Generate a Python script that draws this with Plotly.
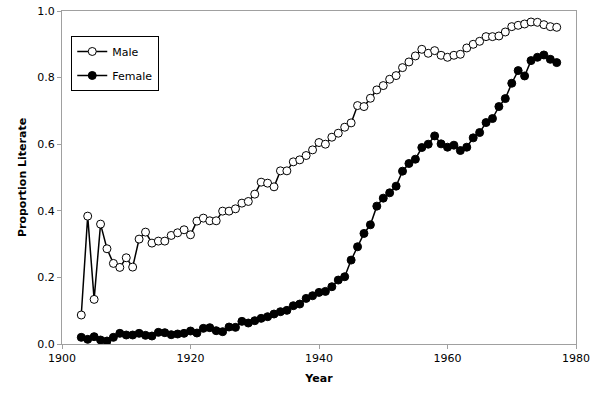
import plotly.graph_objects as go

years = list(range(1903, 1978))

male = [0.087, 0.384, 0.134, 0.360, 0.286, 0.242, 0.230, 0.259, 0.231, 0.315,
        0.336, 0.303, 0.309, 0.309, 0.326, 0.334, 0.343, 0.328, 0.369, 0.378,
        0.370, 0.370, 0.399, 0.399, 0.406, 0.423, 0.428, 0.450, 0.486, 0.483,
        0.472, 0.520, 0.520, 0.547, 0.553, 0.566, 0.583, 0.605, 0.600, 0.621,
        0.633, 0.651, 0.664, 0.716, 0.713, 0.738, 0.763, 0.776, 0.795, 0.806,
        0.830, 0.847, 0.865, 0.885, 0.873, 0.881, 0.867, 0.861, 0.867, 0.870,
        0.889, 0.900, 0.909, 0.923, 0.923, 0.925, 0.937, 0.953, 0.957, 0.961,
        0.967, 0.966, 0.959, 0.953, 0.951]

female = [0.020, 0.014, 0.022, 0.012, 0.009, 0.020, 0.032, 0.027, 0.027, 0.032,
          0.026, 0.024, 0.035, 0.034, 0.028, 0.030, 0.032, 0.039, 0.033, 0.047,
          0.049, 0.040, 0.037, 0.051, 0.050, 0.068, 0.063, 0.070, 0.077, 0.082,
          0.090, 0.097, 0.101, 0.115, 0.120, 0.137, 0.145, 0.155, 0.158, 0.172,
          0.192, 0.202, 0.252, 0.292, 0.332, 0.358, 0.414, 0.438, 0.454, 0.474,
          0.519, 0.542, 0.555, 0.590, 0.600, 0.625, 0.601, 0.591, 0.597, 0.581,
          0.591, 0.619, 0.635, 0.665, 0.677, 0.713, 0.737, 0.783, 0.821, 0.805,
          0.851, 0.861, 0.868, 0.855, 0.845]

x_ticks = [1900, 1920, 1940, 1960, 1980]
y_ticks = [0.0, 0.2, 0.4, 0.6, 0.8, 1.0]
y_labels = ["0.0", "0.2", "0.4", "0.6", "0.8", "1.0"]

font = "DejaVu Sans, Verdana, sans-serif"

fig = go.Figure()
fig.add_trace(go.Scatter(
    x=years, y=male, name="Male", mode="lines+markers", legendgroup="m",
    line=dict(color="black", width=1.5),
    marker=dict(symbol="circle", size=8, color="white",
                line=dict(color="black", width=1)),
))
fig.add_trace(go.Scatter(
    x=years, y=female, name="Female", mode="lines+markers", legendgroup="f",
    line=dict(color="black", width=1.5),
    marker=dict(symbol="circle", size=8, color="black",
                line=dict(color="black", width=1)),
))

axis_common = dict(
    showgrid=False, zeroline=False, showline=True, linecolor="#a0a0a0",
    linewidth=1, mirror=True, ticks="outside", tickcolor="#a0a0a0",
    ticklen=4, tickfont=dict(family=font, size=11, color="black"),
    automargin=False,
)

fig.update_layout(
    width=599, height=396,
    margin=dict(l=62, r=23, t=11, b=52),
    paper_bgcolor="white", plot_bgcolor="white",
    font=dict(family=font, size=11, color="black"),
    showlegend=True,
    legend=dict(
        x=0.018, y=0.925, xanchor="left", yanchor="top",
        bordercolor="black", borderwidth=1, bgcolor="white",
        font=dict(family=font, size=11, color="black"),
        itemwidth=30, tracegroupgap=5,
    ),
    xaxis=dict(
        range=[1900, 1980], tickvals=x_ticks,
        title=dict(text="<b>Year</b>", font=dict(family=font, size=11), standoff=10),
        **axis_common,
    ),
    yaxis=dict(
        range=[0, 1.0], tickvals=y_ticks, ticktext=y_labels,
        title=dict(text="<b>Proportion Literate</b>", font=dict(family=font, size=11), standoff=8),
        **axis_common,
    ),
)

fig.write_html(
    "out.html",
    config={"displayModeBar": False},
    post_script="document.body.style.margin='0px';document.body.style.overflow='hidden';",
)
